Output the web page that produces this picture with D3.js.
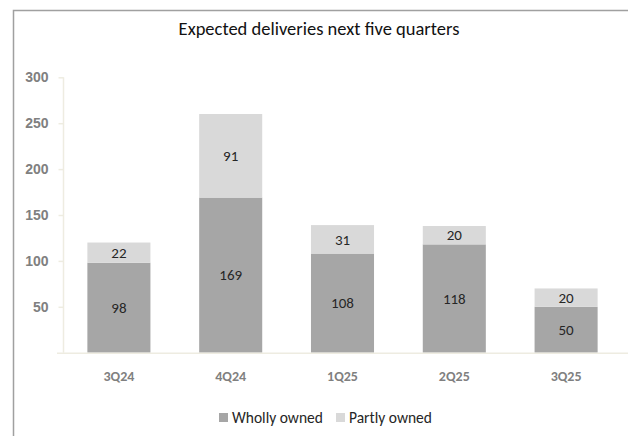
<!DOCTYPE html>
<html>
<head>
<meta charset="utf-8">
<script src="https://cdn.jsdelivr.net/npm/d3@7"></script>
<style>
  body { margin: 0; background: #fff; }
  svg { display: block; font-family: Carlito, Lato, "Open Sans", sans-serif; }
</style>
</head>
<body>
<svg width="628" height="436"></svg>
<script>
var quarters = ["3Q24", "4Q24", "1Q25", "2Q25", "3Q25"];
var wholly = [98, 169, 108, 118, 50];
var partly = [22, 91, 31, 20, 20];
var yTicks = [50, 100, 150, 200, 250, 300];
var seriesNames = ["Wholly owned", "Partly owned"];
var seriesColors = ["#a6a6a6", "#d9d9d9"];

var svg = d3.select("svg"),
    width = +svg.attr("width"),
    height = +svg.attr("height");

// chart frame (only left and top edges show in the picture)
svg.append("path")
    .attr("d", "M13.5,436V10.5H628")
    .attr("fill", "none")
    .attr("stroke", "#a0a0a0")
    .attr("stroke-width", 1.5);

svg.append("text")
    .attr("x", 319)
    .attr("y", 35)
    .attr("text-anchor", "middle")
    .attr("font-size", 18.5)
    .attr("fill", "#111")
    .text("Expected deliveries next five quarters");

var x = d3.scaleBand()
    .domain(quarters)
    .range([63, 622])
    .paddingInner(0.436)
    .paddingOuter(0.218);

var y = d3.scaleLinear()
    .domain([0, 300])
    .range([352.7, 77.3]);

var rows = quarters.map(function(q, i) {
    return {q: q, wholly: wholly[i], partly: partly[i]};
});
var stacked = d3.stack().keys(["wholly", "partly"])(rows);

// y axis
var yAxis = svg.append("g")
    .attr("transform", "translate(63.5,0)")
    .call(d3.axisLeft(y).tickValues(yTicks).tickSize(5).tickPadding(10));
yAxis.select(".domain").attr("stroke", "#eeece1").attr("stroke-width", 1.5)
    .attr("d", "M0," + y(300) + "V" + y(0));
yAxis.selectAll(".tick line").attr("stroke", "#eeece1").attr("stroke-width", 1.5);
yAxis.selectAll(".tick text")
    .attr("fill", "#808080")
    .attr("font-size", 14)
    .attr("font-weight", "bold")
    .attr("font-family", null);

// bars
svg.append("g").selectAll("g")
    .data(stacked)
    .enter().append("g")
    .attr("fill", function(d, i) { return seriesColors[i]; })
    .selectAll("rect")
    .data(function(d) { return d; })
    .enter().append("rect")
    .attr("x", function(d) { return x(d.data.q); })
    .attr("y", function(d) { return y(d[1]); })
    .attr("width", x.bandwidth())
    .attr("height", function(d) { return y(d[0]) - y(d[1]); });

// x axis baseline
svg.append("line")
    .attr("x1", 57).attr("x2", 628)
    .attr("y1", y(0) + 0.5).attr("y2", y(0) + 0.5)
    .attr("stroke", "#eeece1")
    .attr("stroke-width", 1.5);

svg.append("g").selectAll("text")
    .data(quarters)
    .enter().append("text")
    .attr("x", function(d) { return x(d) + x.bandwidth() / 2; })
    .attr("y", 381)
    .attr("text-anchor", "middle")
    .attr("font-size", 14)
    .attr("font-weight", "bold")
    .attr("fill", "#808080")
    .text(function(d) { return d; });

// value labels
svg.append("g").selectAll("g")
    .data(stacked)
    .enter().append("g")
    .selectAll("text")
    .data(function(d) { return d; })
    .enter().append("text")
    .attr("x", function(d) { return x(d.data.q) + x.bandwidth() / 2; })
    .attr("y", function(d) { return (y(d[0]) + y(d[1])) / 2; })
    .attr("dy", "0.35em")
    .attr("text-anchor", "middle")
    .attr("font-size", 15)
    .attr("fill", "#262626")
    .text(function(d) { return d[1] - d[0]; });

// legend
var legend = svg.append("g").attr("transform", "translate(219,418)");
var item = legend.selectAll("g")
    .data(seriesNames)
    .enter().append("g")
    .attr("transform", function(d, i) { return "translate(" + (i * 117) + ",0)"; });
item.append("rect")
    .attr("x", 0).attr("y", -5)
    .attr("width", 9).attr("height", 9)
    .attr("fill", function(d, i) { return seriesColors[i]; });
item.append("text")
    .attr("x", 13)
    .attr("dy", "0.35em")
    .attr("font-size", 15.5)
    .attr("fill", "#262626")
    .text(function(d) { return d; });
</script>
</body>
</html>
